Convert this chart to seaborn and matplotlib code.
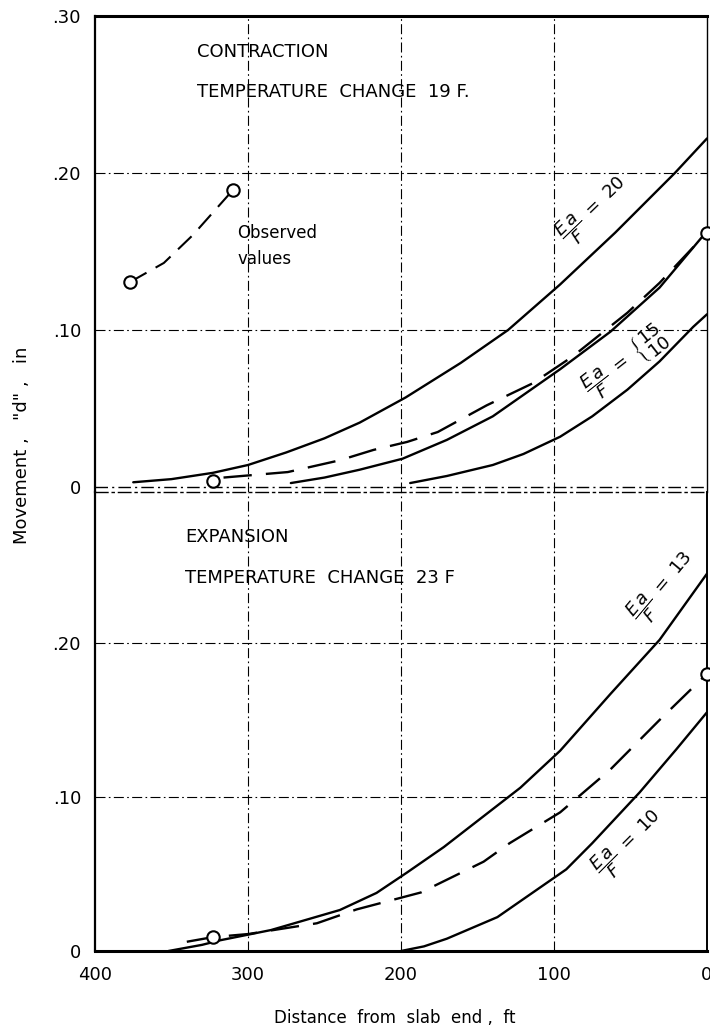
import matplotlib
matplotlib.use("Agg")
import matplotlib.pyplot as plt
import seaborn as sns
import pandas as pd

# ---------------- data (distance from slab end, ft ; movement, in) ----------------
# Contraction panel (temperature change 19 F)
top_ea20_x = [375, 350, 323, 300, 275, 250, 227, 197, 161, 130, 96, 60, 21, 0]
top_ea20_y = [0.003, 0.005, 0.009, 0.014, 0.022, 0.031, 0.041, 0.057, 0.079, 0.100, 0.129, 0.162, 0.200, 0.222]

top_dash_x = [316, 274, 240, 218, 196, 176, 144, 114, 88, 52, 31, 0]
top_dash_y = [0.006, 0.0095, 0.017, 0.0236, 0.0287, 0.035, 0.052, 0.066, 0.083, 0.111, 0.130, 0.162]

top_ea15_x = [272, 250, 227, 199, 170, 140, 96, 63, 31, 0]
top_ea15_y = [0.0025, 0.006, 0.011, 0.018, 0.030, 0.045, 0.075, 0.099, 0.127, 0.163]

top_ea10_x = [194, 170, 140, 120, 96, 75, 52, 31, 9, 0]
top_ea10_y = [0.0025, 0.007, 0.014, 0.021, 0.032, 0.045, 0.062, 0.080, 0.102, 0.110]

top_obs_x = [323, 0]
top_obs_y = [0.004, 0.162]

legend_x = [377, 355, 336, 310]
legend_y = [0.1306, 0.1427, 0.1605, 0.189]

# Expansion panel (temperature change 23 F)
bot_ea13_x = [352, 330, 318, 285, 240, 216, 196, 172, 122, 96, 63, 31, 0]
bot_ea13_y = [0.0, 0.004, 0.007, 0.0136, 0.0266, 0.0377, 0.051, 0.0675, 0.106, 0.130, 0.167, 0.202, 0.245]

bot_dash_x = [340, 323, 300, 255, 229, 187, 146, 129, 96, 63, 31, 0]
bot_dash_y = [0.006, 0.009, 0.011, 0.018, 0.027, 0.038, 0.058, 0.070, 0.090, 0.118, 0.150, 0.180]

bot_ea10_x = [200, 185, 170, 137, 92, 75, 44, 20, 0]
bot_ea10_y = [0.0, 0.003, 0.008, 0.022, 0.053, 0.070, 0.103, 0.131, 0.155]

bot_obs_x = [323, 0]
bot_obs_y = [0.009, 0.180]

x_ticks = [400, 300, 200, 100, 0]
x_ticklabels = ["400", "300", "200", "100", "0"]
top_yticks = [0, 0.10, 0.20, 0.30]
top_yticklabels = ["0", ".10", ".20", ".30"]
bot_yticks = [0, 0.10, 0.20]
bot_yticklabels = ["0", ".10", ".20"]

# ---------------- figure ----------------
sns.set_theme(style="white")
plt.rcParams["font.family"] = ["DejaVu Sans"]
plt.rcParams["mathtext.fontset"] = "dejavusans"

W, H = 710, 1032
fig = plt.figure(figsize=(W / 100, H / 100), dpi=100)
fig.patch.set_facecolor("white")

def fx(px):
    return px / W

def fy(py):
    return 1 - py / H

L, R = 95, 707
ax_top = fig.add_axes([fx(L), fy(492), fx(R) - fx(L), fy(16) - fy(492)])
ax_bot = fig.add_axes([fx(L), fy(951), fx(R) - fx(L), fy(492) - fy(951)])

GRID_LS = (0, (9, 3, 1.5, 3))
CURVE_LW = 1.7
DASH = (0, (12, 6))

def line(ax, xs, ys, ls="-", lw=CURVE_LW):
    df = pd.DataFrame({"x": xs, "y": ys})
    sns.lineplot(data=df, x="x", y="y", ax=ax, color="black", lw=lw,
                 linestyle=ls, estimator=None, sort=False)

def circles(ax, xs, ys):
    df = pd.DataFrame({"x": xs, "y": ys})
    sns.scatterplot(data=df, x="x", y="y", ax=ax, s=80, facecolor="white",
                    edgecolor="black", linewidth=1.5, zorder=5, clip_on=False)

for ax in (ax_top, ax_bot):
    ax.set_xlim(400, 0)
    ax.set_facecolor("white")
    for x in (300, 200, 100):
        ax.axvline(x, color="black", lw=0.8, ls=GRID_LS, zorder=1)
    ax.tick_params(length=0, labelsize=13, colors="black")
    for s in ax.spines.values():
        s.set_color("black")

# top panel
ax_top.set_ylim(-0.0032, 0.30)
for y in (0.10, 0.20):
    ax_top.axhline(y, color="black", lw=0.8, ls=GRID_LS, zorder=1)
ax_top.axhline(0, color="black", lw=1.0, ls=GRID_LS, zorder=1)
line(ax_top, top_ea20_x, top_ea20_y)
line(ax_top, top_ea15_x, top_ea15_y)
line(ax_top, top_ea10_x, top_ea10_y)
line(ax_top, top_dash_x, top_dash_y, ls=DASH)
line(ax_top, legend_x, legend_y, ls=(0, (9, 5)), lw=1.5)
circles(ax_top, top_obs_x, top_obs_y)
circles(ax_top, [legend_x[0], legend_x[-1]], [legend_y[0], legend_y[-1]])
ax_top.set_yticks(top_yticks)
ax_top.set_yticklabels(top_yticklabels)
ax_top.set_xticks([])
ax_top.spines["bottom"].set_visible(False)
ax_top.spines["top"].set_linewidth(2.2)
ax_top.spines["left"].set_linewidth(1.6)
ax_top.spines["right"].set_linewidth(1.0)
ax_top.set_xlabel("")
ax_top.set_ylabel("")
ax_top.tick_params(axis="y", pad=10)

# bottom panel
ax_bot.set_ylim(0, 0.298)
for y in (0.10, 0.20):
    ax_bot.axhline(y, color="black", lw=0.8, ls=GRID_LS, zorder=1)
line(ax_bot, bot_ea13_x, bot_ea13_y)
line(ax_bot, bot_ea10_x, bot_ea10_y)
line(ax_bot, bot_dash_x, bot_dash_y, ls=DASH)
circles(ax_bot, bot_obs_x, bot_obs_y)
ax_bot.set_yticks(bot_yticks)
ax_bot.set_yticklabels(bot_yticklabels)
ax_bot.set_xticks(x_ticks)
ax_bot.set_xticklabels(x_ticklabels)
ax_bot.spines["top"].set_linestyle(GRID_LS)
ax_bot.spines["top"].set_linewidth(1.0)
ax_bot.spines["bottom"].set_linewidth(2.2)
ax_bot.spines["left"].set_linewidth(1.6)
ax_bot.spines["right"].set_linewidth(1.4)
ax_bot.set_xlabel("")
ax_bot.set_ylabel("")
ax_bot.tick_params(axis="y", pad=10)
ax_bot.tick_params(axis="x", pad=11)

# ---------------- text ----------------
TXT = dict(color="black", fontsize=13)
fig.text(fx(197), fy(52), "CONTRACTION", ha="left", va="center", **TXT)
fig.text(fx(197), fy(92), "TEMPERATURE  CHANGE  19 F.", ha="left", va="center", **TXT)
fig.text(fx(237), fy(233), "Observed", ha="left", va="center", color="black", fontsize=12)
fig.text(fx(237), fy(259), "values", ha="left", va="center", color="black", fontsize=12)
fig.text(fx(185), fy(537), "EXPANSION", ha="left", va="center", **TXT)
fig.text(fx(185), fy(578), "TEMPERATURE  CHANGE  23 F", ha="left", va="center", **TXT)

FR = r"\dfrac{E\,a}{F}"
fig.text(fx(593), fy(210), "$" + FR + r"\ =\ 20$", ha="center", va="center",
         rotation=44, color="black", fontsize=13)
fig.text(fx(625), fy(362), "$" + FR + r"\ =\ \left\{\genfrac{}{}{0}{0}{15}{10}\right.$",
         ha="center", va="center", rotation=38, color="black", fontsize=13)
fig.text(fx(663), fy(587), "$" + FR + r"\ =\ 13$", ha="center", va="center",
         rotation=50, color="black", fontsize=13)
fig.text(fx(628), fy(843), "$" + FR + r"\ =\ 10$", ha="center", va="center",
         rotation=45, color="black", fontsize=13)

fig.text(fx(22), fy(445), 'Movement ,   "d" ,   in', rotation=90, ha="center", va="center",
         color="black", fontsize=13)
fig.text(fx(395), fy(1018), "Distance  from  slab  end ,  ft", ha="center", va="center",
         color="black", fontsize=12)

fig.savefig("out.png", dpi=100, facecolor="white")
